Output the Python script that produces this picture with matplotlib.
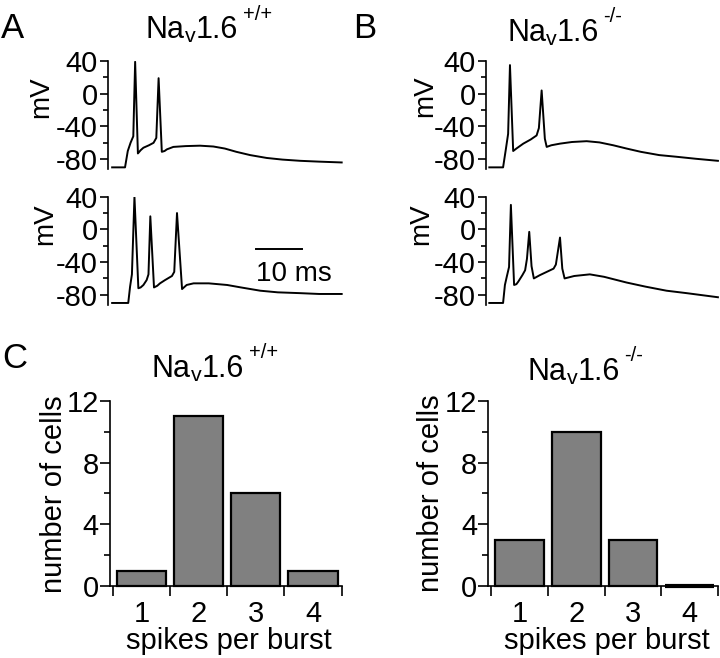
import matplotlib
matplotlib.use('Agg')
import matplotlib.pyplot as plt

plt.rcParams['font.family'] = ['Liberation Sans', 'DejaVu Sans']

# ---------------- data ----------------
# Panel A (Nav1.6 +/+), time in ms, membrane potential in mV
a1_t = [0, 2.8, 3.4, 4.0, 4.6, 5.0, 5.6, 6.2, 6.8, 8.0, 9.0, 9.6, 10.1, 10.8, 11.4, 11.9, 13.3, 16.0, 19.1, 22.0, 24.5, 27.0, 30.0, 33.6, 37.0, 40.9, 45.0, 49.9]
a1_v = [-90, -90, -70, -60, -52, 39, -73, -69, -66, -63, -60, -54, 19, -71, -70, -68, -65, -64, -63.5, -64.5, -67, -71, -75, -78.5, -80.5, -82, -83, -84]
a2_t = [0, 3.5, 3.9, 4.3, 4.85, 5.7, 6.2, 6.8, 7.5, 7.9, 8.3, 9.1, 9.8, 10.4, 11.5, 13.0, 13.5, 14.1, 15.2, 16.2, 17.7, 21.0, 25.0, 28.0, 32.2, 36.0, 40.9, 45.0, 49.9]
a2_v = [-90, -90, -70, -55, 40, -72, -71, -68, -62, -55, 16, -71, -69, -66, -62, -57, -52, 20, -73, -68, -66, -66, -68, -71, -75, -77, -78, -79, -79]
# Panel B (Nav1.6 -/-)
b1_t = [0, 3.0, 3.6, 4.1, 4.5, 5.2, 5.9, 7.4, 9.0, 10.3, 10.8, 11.4, 12.1, 12.5, 13.5, 15.4, 18.0, 21.2, 24.0, 27.0, 29.9, 33.0, 37.0, 40.7, 45.0, 49.8]
b1_v = [-90, -90, -68, -49, 35, -70, -67, -61, -56, -51, -42, 4, -55, -65, -63, -61, -59, -58, -59.5, -63, -67, -71, -75, -77, -79.5, -82]
b2_t = [0, 3.0, 3.4, 3.8, 4.3, 4.7, 5.4, 5.9, 6.3, 7.2, 7.8, 8.2, 8.7, 9.2, 9.7, 11.0, 12.5, 14.0, 14.5, 15.4, 15.9, 16.4, 18.5, 21.9, 25.0, 29.9, 34.0, 38.6, 43.0, 49.8]
b2_v = [-90, -90, -68, -58, -46, 30, -68, -67, -64, -56, -50, -36, -3, -45, -60, -56, -52, -48, -43, -10, -48, -60, -57, -55, -58, -65, -70, -75, -78, -83]

# Panel C histograms
spikes = [1, 2, 3, 4]
wt_cells = [1, 11, 6, 1]
ko_cells = [3, 10, 3, 0]

mv_ticks = [40, 0, -40, -80]
mv_minor = [20, -20, -60]
cell_ticks = [0, 4, 8, 12]
cell_minor = [2, 6, 10]

# ---------------- figure ----------------
W, H = 720, 658
fig = plt.figure(figsize=(W / 100, H / 100), dpi=100)
renderer = fig.canvas.get_renderer()


def axes_px(x0, y0, x1, y1):
    return fig.add_axes([x0 / W, 1 - y1 / H, (x1 - x0) / W, (y1 - y0) / H])


def text_px(x, y, s, **kw):
    return fig.text(x / W, 1 - y / H, s, va='baseline', **kw)


def title_px(x, y, size, sup):
    t = text_px(x, y, 'Na', fontsize=size)
    x1 = t.get_window_extent(renderer).x1
    t = fig.text(x1 / W, 1 - (y + 0.18 * size) / H, 'v', fontsize=size * 0.7, va='baseline')
    x1 = t.get_window_extent(renderer).x1
    t = fig.text(x1 / W, 1 - y / H, '1.6', fontsize=size, va='baseline')
    x1 = t.get_window_extent(renderer).x1
    fig.text((x1 + 0.2 * size) / W, 1 - (y - 0.85 * size) / H, sup, fontsize=size * 0.66, va='baseline')


def trace_axes(x0, y0, x1, y1, xmin, t, v):
    ax = axes_px(x0, y0, x1, y1)
    ax.plot(t, v, color='black', lw=1.4, solid_joinstyle='round')
    ax.set_xlim(xmin, 50.1)
    ax.set_ylim(-92, 40)
    for s in ['top', 'right', 'bottom']:
        ax.spines[s].set_visible(False)
    ax.spines['left'].set_linewidth(1.2)
    ax.set_xticks([])
    ax.set_yticks(mv_ticks)
    ax.set_yticks(mv_minor, minor=True)
    ax.set_yticklabels([str(x) for x in mv_ticks])
    ax.tick_params(axis='y', which='major', length=6, width=1.2, pad=1.5, labelsize=21)
    ax.tick_params(axis='y', which='minor', length=3.5, width=1.2)
    ax.patch.set_visible(False)
    return ax


axA1 = trace_axes(108, 61, 342.6, 169, -0.9, a1_t, a1_v)
axA2 = trace_axes(108, 196.7, 342.6, 304.6, -0.9, a2_t, a2_v)
axB1 = trace_axes(486, 61, 719.3, 169, -0.72, b1_t, b1_v)
axB2 = trace_axes(486, 196.7, 719.3, 304.6, -0.72, b2_t, b2_v)

# scale bar
axA2.plot([31.3, 41.3], [-24, -24], color='black', lw=1.4)
axA2.text(31.3, -63.7, '10 ms', fontsize=20, va='baseline', ha='left')

for (x, y) in [(41, 97), (45, 224), (425, 96), (421, 224)]:
    fig.text(x / W, 1 - y / H, 'mV', rotation=90, ha='center', va='center', fontsize=20)


def hist_axes(x0, y0, x1, y1, counts):
    ax = axes_px(x0, y0, x1, y1)
    lws = [1.6 if c > 0 else 3.0 for c in counts]
    ax.bar(spikes, counts, width=0.86, color='#808080', edgecolor='black',
           linewidth=lws, clip_on=False, zorder=3)
    ax.set_xlim(0.45, 4.5)
    ax.set_ylim(0, 12)
    for s in ['top', 'right']:
        ax.spines[s].set_visible(False)
    for s in ['left', 'bottom']:
        ax.spines[s].set_linewidth(1.2)
    ax.set_yticks(cell_ticks)
    ax.set_yticks(cell_minor, minor=True)
    ax.set_yticklabels([str(c) for c in cell_ticks])
    ax.set_xticks(spikes)
    ax.set_xticklabels([str(s) for s in spikes])
    ax.set_xticks([0.5, 1.5, 2.5, 3.5, 4.5], minor=True)
    ax.tick_params(axis='y', which='major', length=7, width=1.2, pad=1, labelsize=21)
    ax.tick_params(axis='y', which='minor', length=4.3, width=1.2)
    ax.tick_params(axis='x', which='major', length=0, pad=10, labelsize=21)
    ax.tick_params(axis='x', which='minor', length=7, width=1.2)
    ax.patch.set_visible(False)
    return ax


axC1 = hist_axes(110, 400.7, 341.7, 586.2, wt_cells)
axC2 = hist_axes(488.3, 400.7, 718, 586.2, ko_cells)

for (x, y) in [(54, 494), (431, 493)]:
    fig.text(x / W, 1 - y / H, 'number of cells', rotation=90, ha='center', va='center', fontsize=21)
for x in [228.5, 606.7]:
    text_px(x, 649, 'spikes per burst', ha='center', fontsize=21)

# titles
title_px(146, 38.5, 22, '+/+')
title_px(507, 41, 22, '-/-')
title_px(152, 377, 22, '+/+')
title_px(528, 380, 22, '-/-')

# panel letters
text_px(1, 37.5, 'A', fontsize=25)
text_px(353, 37.5, 'B', fontsize=25)
text_px(2, 368, 'C', fontsize=25)

fig.savefig('out.png', dpi=100)
